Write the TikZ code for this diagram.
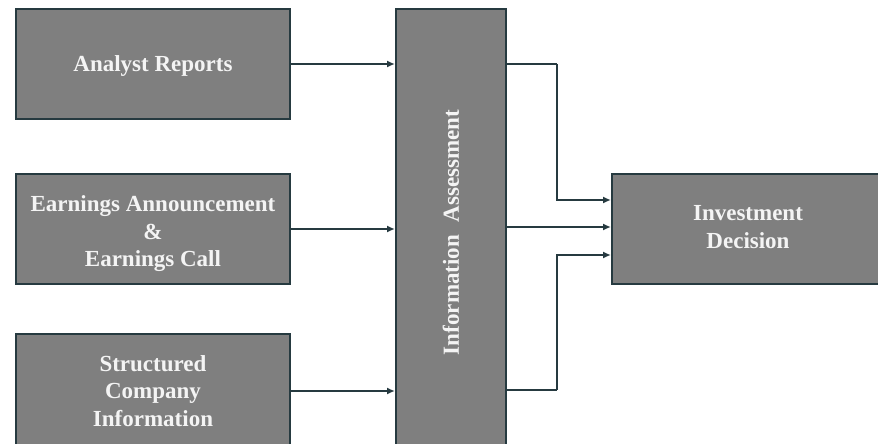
\documentclass[tikz,border=0pt]{standalone}
\usepackage{fontspec}
\setmainfont{Liberation Serif}
\usetikzlibrary{arrows.meta}
\definecolor{boxfill}{HTML}{7F7F7F}
\definecolor{edge}{HTML}{263A40}
\definecolor{label}{HTML}{F4F4F4}
\begin{document}
\begin{tikzpicture}[x=1pt,y=-1pt,
  box/.style={draw=edge, line width=2pt, fill=boxfill, inner sep=0pt},
  boxtext/.style={text=label, font=\fontsize{23}{27.5}\selectfont\bfseries,
    align=center, inner sep=0pt},
  flow/.style={draw=edge, line width=2pt, -{Latex[length=8pt,width=7pt]}},
  link/.style={draw=edge, line width=2pt}]
\useasboundingbox (0,0) rectangle (878,444);
\clip (0,0) rectangle (878,444);
\fill[white] (0,0) rectangle (878,444);

% source boxes
\node[box, minimum width=274pt, minimum height=110pt] (ar) at (153,64) {};
\node[boxtext] (artext) at ([yshift=-2.5pt]ar.center) {Analyst Reports};
\node[box, minimum width=274pt, minimum height=110pt] (ea) at (153,229) {};
\node[boxtext] (eatext) at ([yshift=-5pt]ea.center)
  {Earnings Announcement\\\&\\Earnings Call};
\node[box, minimum width=274pt, minimum height=114pt] (sc) at (153,391) {};
\node[boxtext] (sctext) at (sc.center) {Structured\\Company\\Information};

% assessment column
\node[box, minimum width=110pt, minimum height=474pt] (ia) at (451,246) {};
\node[boxtext, rotate=90] (iatext) at (451,232.5)
  {Information\hspace{0.55em}Assessment};

% decision box
\node[box, minimum width=272pt, minimum height=110pt] (id) at (748,229) {};
\node[boxtext] (idtext) at ([yshift=2pt]id.center) {Investment\\Decision};

% inputs
\draw[flow] (ar.east) -- (ar.east -| ia.west);
\draw[flow] (ea.east) -- (ea.east -| ia.west);
\draw[flow] (sc.east) -- (sc.east -| ia.west);

% outputs
\coordinate (t1) at (557,64);
\coordinate (t2) at (557,200);
\coordinate (b1) at (557,390);
\coordinate (b2) at (557,255);
\draw[link] (t1 -| ia.east) -- (t1);
\draw[flow] (t1) -- (t2) -- (t2 -| id.west);
\draw[flow] (ia.east |- 0,227) -- (id.west |- 0,227);
\draw[link] (b1 -| ia.east) -- (b1);
\draw[flow] (b1) -- (b2) -- (b2 -| id.west);
\end{tikzpicture}
\end{document}
